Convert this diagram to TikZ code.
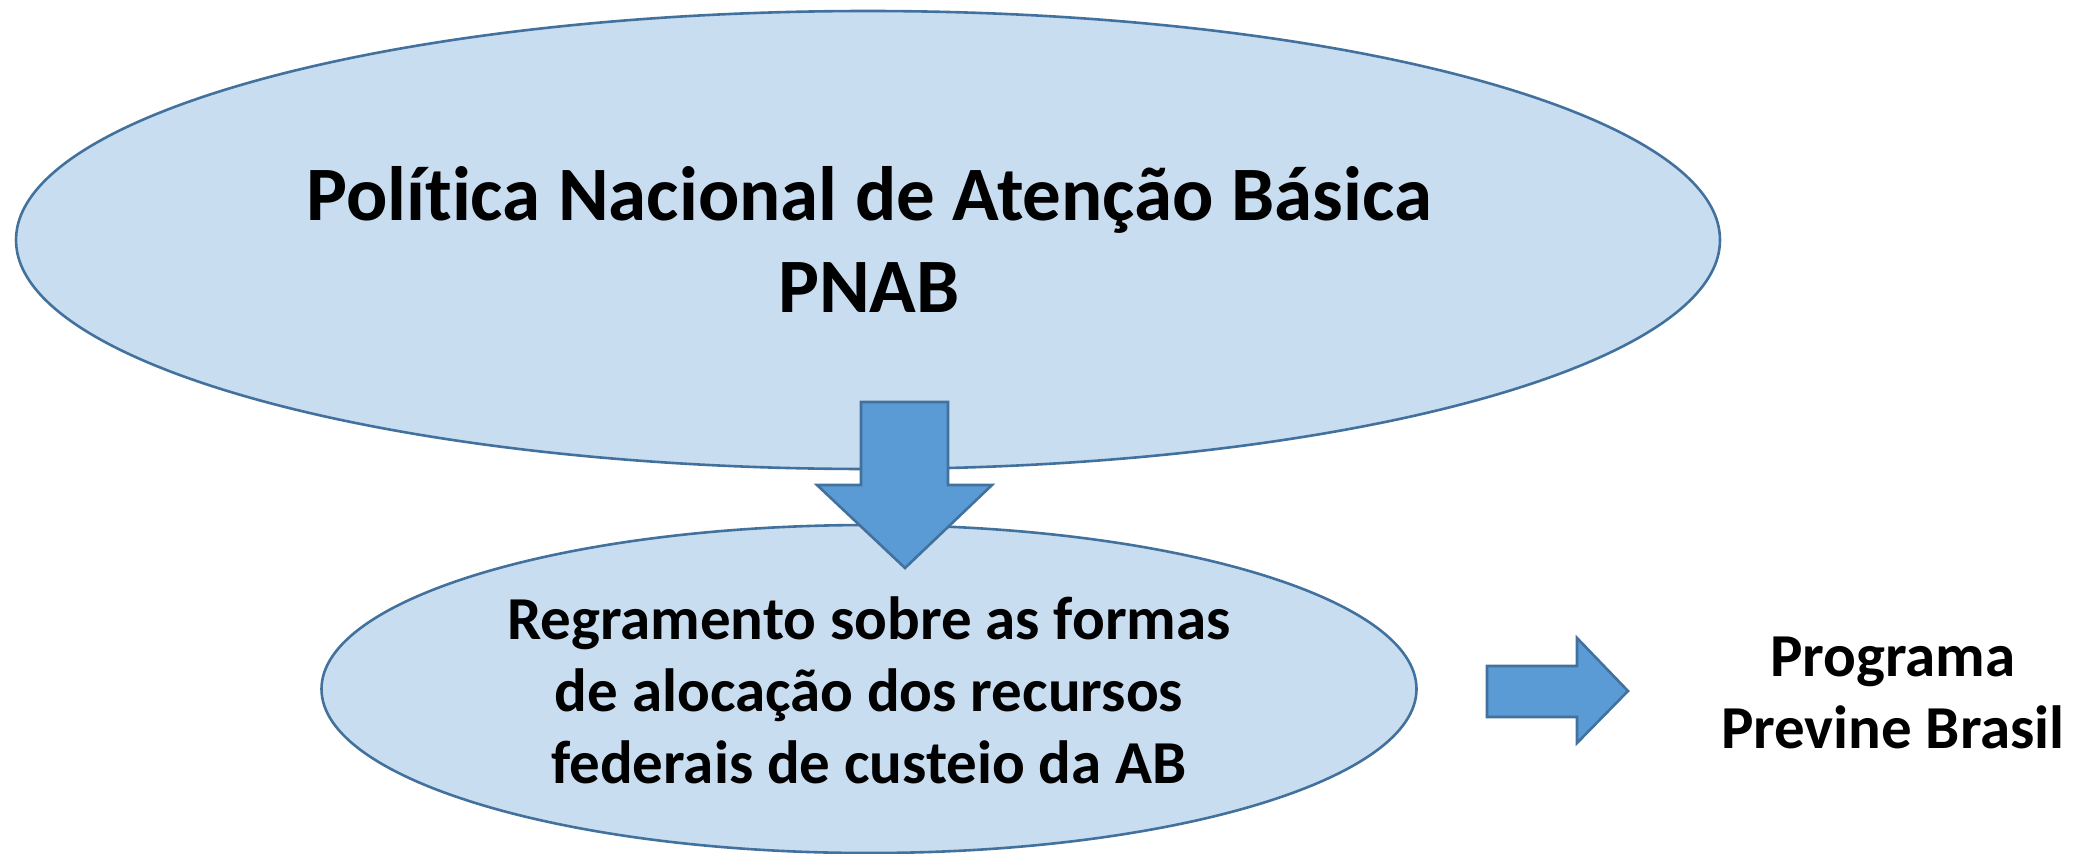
\documentclass[tikz,border=0pt]{standalone}
\usepackage{fontspec}
\setmainfont{Carlito}[RawFeature={-liga}]
\usetikzlibrary{shapes.geometric}
\definecolor{ellfill}{HTML}{C9DDF1}
\definecolor{edge}{HTML}{41719C}
\definecolor{arrfill}{HTML}{5B9BD5}
\tikzset{
  bubble/.style={ellipse, draw=edge, fill=ellfill, line width=2.6pt, inner sep=0pt},
  blockarrow/.style={draw=edge, fill=arrfill, line width=2.6pt, line join=miter},
  bigtext/.style={font=\bfseries\fontsize{77}{92}\selectfont, align=center, anchor=base, inner sep=0pt},
  midtext/.style={font=\bfseries\fontsize{61}{72}\selectfont, align=center, anchor=base, inner sep=0pt}
}
\begin{document}
\begin{tikzpicture}[x=1pt,y=-1pt]
\useasboundingbox (0,0) rectangle (2075,854);
\node[bubble, minimum width=1704pt, minimum height=458pt] (pnab) at (868,240) {};
\node[bubble, minimum width=1095pt, minimum height=328pt] (regra) at (869,689) {};
\node[bigtext] (pnabtxt) at (869,312) {Política Nacional de Atenção Básica\\PNAB};
\node[midtext] (regratxt) at (869,783) {Regramento sobre as formas\\de alocação dos recursos\\federais de custeio da AB};
\node[midtext] (prog) at (1893,748) {Programa\\Previne Brasil};
% down arrow
\draw[blockarrow] (861,402) -- (948,402) -- (948,485) -- (992,485) -- (905,568) -- (817,485) -- (861,485) -- cycle;
% right arrow
\draw[blockarrow] (1487,666) -- (1577,666) -- (1577,638) -- (1628,691) -- (1577,743) -- (1577,717) -- (1487,717) -- cycle;
\end{tikzpicture}
\end{document}
